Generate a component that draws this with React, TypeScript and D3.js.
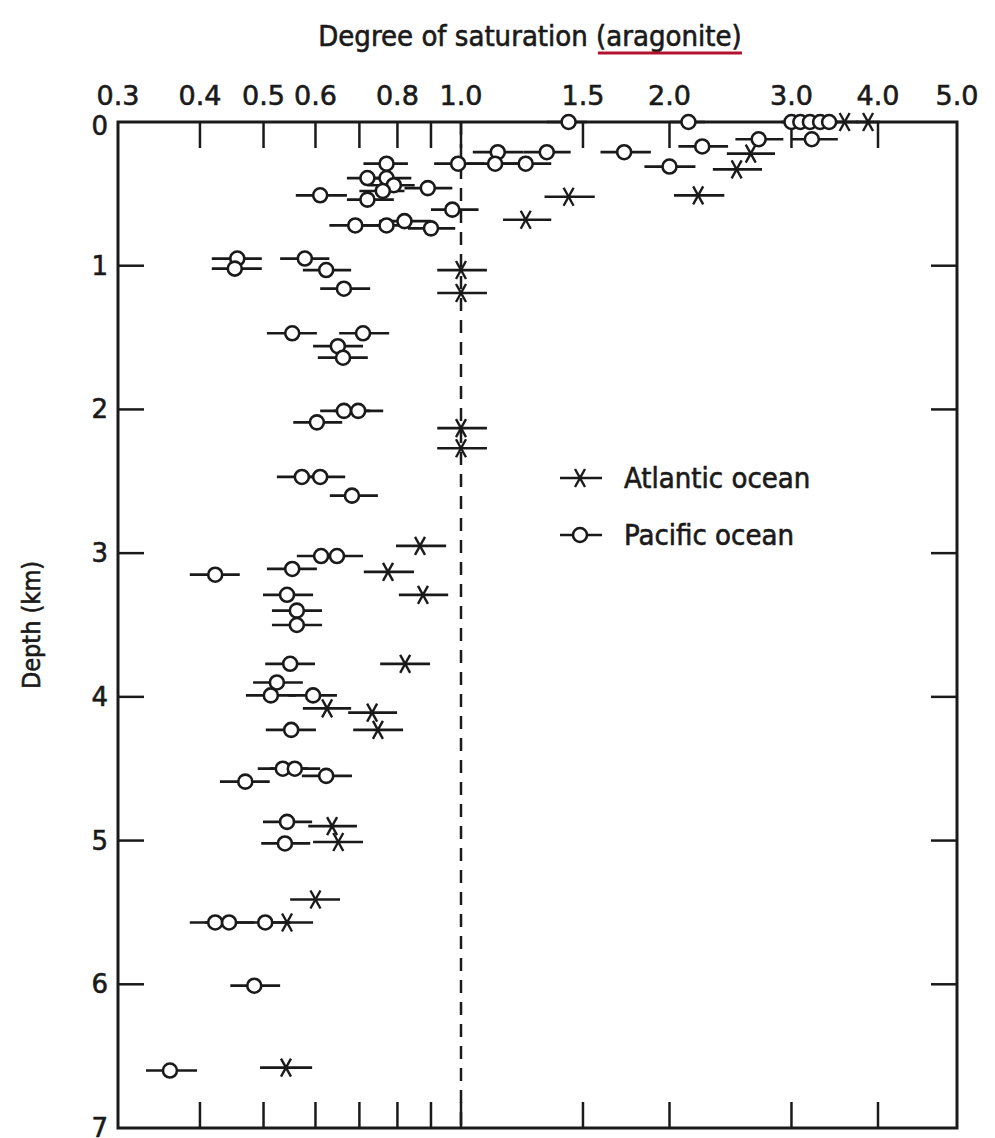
import React from "react";
import * as d3 from "d3";

// depth (km), degree of saturation, error bar low, error bar high
const pacific: [number, number, number, number][] = [
  [0, 1.43, 1.33, 1.52],
  [0, 2.13, 2.0, 2.25],
  [0, 3.0, 2.9, 3.1],
  [0, 3.09, 3.0, 3.2],
  [0, 3.19, 3.1, 3.3],
  [0, 3.3, 3.2, 3.4],
  [0, 3.4, 3.3, 3.5],
  [0.12, 2.69, 2.49, 2.92],
  [0.12, 3.21, 3.0, 3.5],
  [0.17, 2.23, 2.06, 2.43],
  [0.21, 1.72, 1.59, 1.88],
  [0.21, 1.13, 1.04, 1.23],
  [0.21, 1.33, 1.23, 1.44],
  [0.29, 0.99, 0.91, 1.08],
  [0.29, 1.12, 1.02, 1.22],
  [0.29, 1.24, 1.14, 1.35],
  [0.31, 2.0, 1.84, 2.18],
  [0.29, 0.77, 0.71, 0.83],
  [0.39, 0.72, 0.67, 0.79],
  [0.39, 0.77, 0.71, 0.84],
  [0.44, 0.79, 0.72, 0.85],
  [0.48, 0.76, 0.7, 0.82],
  [0.46, 0.89, 0.82, 0.97],
  [0.51, 0.61, 0.56, 0.67],
  [0.54, 0.72, 0.67, 0.79],
  [0.61, 0.97, 0.9, 1.06],
  [0.72, 0.69, 0.63, 0.75],
  [0.72, 0.77, 0.71, 0.83],
  [0.69, 0.82, 0.75, 0.9],
  [0.74, 0.9, 0.83, 0.98],
  [0.95, 0.456, 0.417, 0.497],
  [1.02, 0.452, 0.417, 0.497],
  [0.95, 0.578, 0.53, 0.63],
  [1.03, 0.623, 0.574, 0.68],
  [1.16, 0.663, 0.61, 0.727],
  [1.47, 0.553, 0.506, 0.603],
  [1.47, 0.709, 0.652, 0.777],
  [1.56, 0.649, 0.595, 0.709],
  [1.64, 0.661, 0.605, 0.721],
  [2.01, 0.663, 0.61, 0.727],
  [2.01, 0.697, 0.64, 0.761],
  [2.09, 0.603, 0.555, 0.659],
  [2.47, 0.572, 0.524, 0.625],
  [2.47, 0.61, 0.558, 0.666],
  [2.6, 0.682, 0.631, 0.747],
  [3.02, 0.612, 0.562, 0.666],
  [3.02, 0.647, 0.595, 0.709],
  [3.15, 0.422, 0.386, 0.46],
  [3.11, 0.553, 0.506, 0.603],
  [3.29, 0.543, 0.499, 0.595],
  [3.4, 0.562, 0.515, 0.614],
  [3.5, 0.562, 0.515, 0.614],
  [3.77, 0.549, 0.503, 0.599],
  [3.9, 0.524, 0.482, 0.574],
  [3.99, 0.513, 0.47, 0.56],
  [3.99, 0.595, 0.546, 0.647],
  [4.23, 0.551, 0.504, 0.601],
  [4.5, 0.535, 0.49, 0.585],
  [4.5, 0.558, 0.511, 0.61],
  [4.55, 0.623, 0.572, 0.682],
  [4.59, 0.469, 0.429, 0.511],
  [4.87, 0.543, 0.499, 0.593],
  [5.02, 0.539, 0.496, 0.589],
  [5.57, 0.422, 0.386, 0.46],
  [5.57, 0.443, 0.407, 0.484],
  [5.57, 0.503, 0.46, 0.55],
  [6.01, 0.484, 0.445, 0.53],
  [6.6, 0.36, 0.331, 0.396],
];

const atlantic: [number, number, number, number][] = [
  [0, 3.58, 3.4, 3.75],
  [0, 3.87, 3.72, 4.02],
  [0.22, 2.62, 2.42, 2.84],
  [0.33, 2.5, 2.31, 2.72],
  [0.51, 2.2, 2.03, 2.4],
  [0.52, 1.43, 1.32, 1.56],
  [0.68, 1.24, 1.15, 1.35],
  [1.03, 1.0, 0.92, 1.09],
  [1.19, 1.0, 0.92, 1.09],
  [2.13, 1.0, 0.92, 1.09],
  [2.27, 1.0, 0.92, 1.09],
  [2.95, 0.866, 0.796, 0.949],
  [3.13, 0.774, 0.711, 0.848],
  [3.29, 0.875, 0.804, 0.956],
  [3.77, 0.822, 0.753, 0.897],
  [4.08, 0.625, 0.574, 0.68],
  [4.11, 0.732, 0.673, 0.799],
  [4.23, 0.747, 0.685, 0.816],
  [4.9, 0.636, 0.585, 0.694],
  [5.01, 0.65, 0.595, 0.709],
  [5.41, 0.6, 0.549, 0.654],
  [5.57, 0.543, 0.499, 0.595],
  [6.58, 0.541, 0.494, 0.593],
];

const xTickValues = [0.4, 0.5, 0.6, 0.7, 0.8, 0.9, 1.0, 1.5, 2, 3, 4];
const xTickLabels = ["0.3", "0.4", "0.5", "0.6", "0.8", "1.0", "1.5", "2.0", "3.0", "4.0", "5.0"];
const depthTicks = [1, 2, 3, 4, 5, 6];
const depthLabels = [0, 1, 2, 3, 4, 5, 6, 7];
const legendItems = ["Atlantic ocean", "Pacific ocean"];

const W = 995;
const H = 1138;
const ink = "#1a1a1a";
const numFont = "'DejaVu Sans', Verdana, sans-serif";
const narrowFont = "'Liberation Sans Narrow', 'DejaVu Sans Condensed', 'Arial Narrow', sans-serif";
// scanned print looks heavier than plain text
const heavy = { stroke: ink, strokeWidth: 0.6 };

// axis is hand drawn in the original, so piecewise log
const x = d3.scaleLog().domain([0.3, 1, 4, 5]).range([118, 461, 878, 957]);
const y = d3.scaleLinear().domain([0, 7]).range([122, 1128]);

const Cross = ({ cx, cy }: { cx: number; cy: number }) => (
  <g stroke={ink} strokeWidth={2.4}>
    <line x1={cx - 5} y1={cy - 9} x2={cx + 5} y2={cy + 9} />
    <line x1={cx + 5} y1={cy - 9} x2={cx - 5} y2={cy + 9} />
  </g>
);

const Ring = ({ cx, cy }: { cx: number; cy: number }) => (
  <circle cx={cx} cy={cy} r={7} fill="#fff" stroke={ink} strokeWidth={2.6} />
);

export default function App() {
  const [x0, x1] = [x(0.3), x(5)];
  const [y0, y1] = [y(0), y(7)];
  const tickLen = 26;

  return (
    <svg width={W} height={H} style={{ position: "absolute", left: 0, top: 0, background: "#fff" }}>
      {/* title */}
      <text x={530} y={46} textAnchor="middle" fontFamily={narrowFont} fontSize={29} fill={ink} {...heavy}>
        Degree of saturation (aragonite)
      </text>
      <line x1={598} x2={742} y1={53} y2={53} stroke="#b3122e" strokeWidth={3} />

      {/* y label */}
      <text
        transform={`translate(40,${(y0 + y1) / 2}) rotate(-90)`}
        textAnchor="middle"
        fontFamily={narrowFont}
        fontSize={25}
        fill={ink}
        {...heavy}
      >
        Depth (km)
      </text>

      {/* frame */}
      <rect x={x0} y={y0} width={x1 - x0} height={y1 - y0} fill="none" stroke={ink} strokeWidth={3} />

      {/* x ticks, top and bottom */}
      {xTickValues.map((v) => (
        <g key={"xt" + v} stroke={ink} strokeWidth={2.5}>
          <line x1={x(v)} x2={x(v)} y1={y0} y2={y0 + tickLen} />
          <line x1={x(v)} x2={x(v)} y1={y1} y2={y1 - tickLen} />
        </g>
      ))}
      {xTickLabels.map((t) => (
        <text key={"xl" + t} x={x(+t)} y={105} textAnchor="middle" fontFamily={numFont} fontSize={27} fill={ink} {...heavy}>
          {t}
        </text>
      ))}

      {/* y ticks, left and right */}
      {depthTicks.map((d) => (
        <g key={"yt" + d} stroke={ink} strokeWidth={2.5}>
          <line x1={x0} x2={x0 + tickLen} y1={y(d)} y2={y(d)} />
          <line x1={x1} x2={x1 - tickLen} y1={y(d)} y2={y(d)} />
        </g>
      ))}
      {depthLabels.map((d) => (
        <text
          key={"yl" + d}
          x={108}
          y={y(d) + (d === 0 ? 13 : 9)}
          textAnchor="end"
          fontFamily={numFont}
          fontSize={26}
          fill={ink}
          {...heavy}
        >
          {d}
        </text>
      ))}

      {/* saturation = 1 */}
      <line x1={x(1)} x2={x(1)} y1={y0} y2={y1} stroke={ink} strokeWidth={2.5} strokeDasharray="13 9" />

      {/* error bars */}
      <g stroke={ink} strokeWidth={2.7}>
        {[...pacific, ...atlantic].map(([d, , lo, hi], i) => (
          <line key={"eb" + i} x1={x(lo)} x2={x(hi)} y1={y(d)} y2={y(d)} />
        ))}
      </g>

      {atlantic.map(([d, v], i) => (
        <Cross key={"a" + i} cx={x(v)} cy={y(d)} />
      ))}
      {pacific.map(([d, v], i) => (
        <Ring key={"p" + i} cx={x(v)} cy={y(d)} />
      ))}

      {/* legend */}
      {legendItems.map((name, i) => {
        const ly = 478 + i * 57;
        return (
          <g key={name}>
            <line x1={560} x2={602} y1={ly} y2={ly} stroke={ink} strokeWidth={2.6} />
            {i === 0 ? <Cross cx={580} cy={ly} /> : <Ring cx={580} cy={ly} />}
            <text x={624} y={ly + 10} fontFamily={narrowFont} fontSize={29} fill={ink} {...heavy}>
              {name}
            </text>
          </g>
        );
      })}
    </svg>
  );
}
